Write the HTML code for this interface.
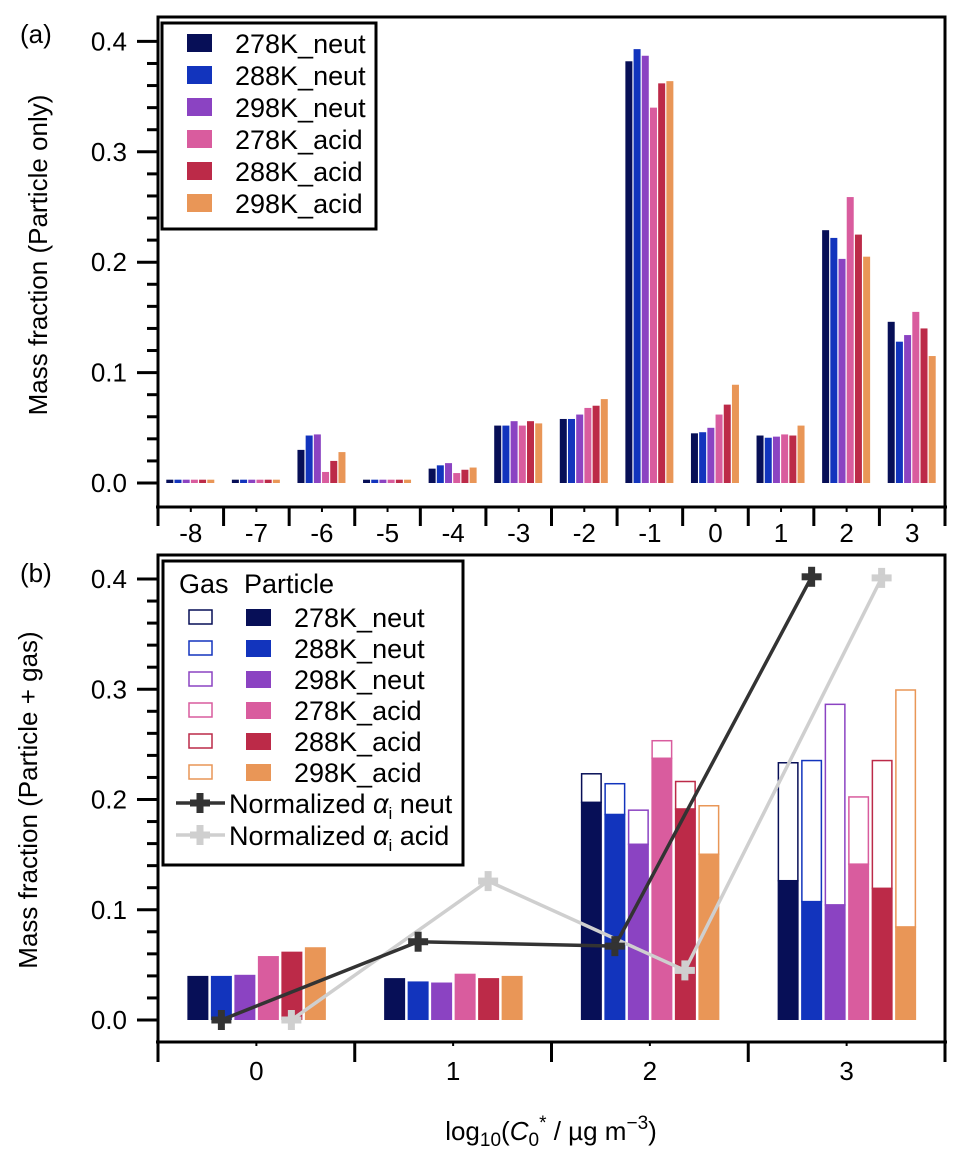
<!DOCTYPE html>
<html><head><meta charset="utf-8"><style>
body{margin:0;background:#fff;}
svg{display:block;font-family:"Liberation Sans",Arial,sans-serif;}
</style></head><body>
<svg id="chart" width="966" height="1167" viewBox="0 0 966 1167">
<g id="pa"></g>
<g id="pb"></g>
</svg>
<script>
const series = ["278K_neut","288K_neut","298K_neut","278K_acid","288K_acid","298K_acid"];
const colors = ["#070f57","#1234bd","#8b43c2","#d95c9e","#bc2a48","#e99657"];
const catsA = ["-8","-7","-6","-5","-4","-3","-2","-1","0","1","2","3"];
const valsA = [
 [0.003,0.003,0.003,0.003,0.003,0.003],
 [0.003,0.003,0.003,0.003,0.003,0.003],
 [0.030,0.043,0.044,0.010,0.020,0.028],
 [0.003,0.003,0.003,0.003,0.003,0.003],
 [0.013,0.016,0.018,0.009,0.012,0.014],
 [0.052,0.052,0.056,0.052,0.056,0.054],
 [0.058,0.058,0.062,0.068,0.070,0.076],
 [0.382,0.393,0.387,0.340,0.362,0.364],
 [0.045,0.046,0.050,0.062,0.071,0.089],
 [0.043,0.041,0.042,0.044,0.043,0.052],
 [0.229,0.222,0.203,0.259,0.225,0.205],
 [0.146,0.128,0.134,0.155,0.140,0.115]];
const catsB = ["0","1","2","3"];
const partB = [
 [0.040,0.040,0.041,0.058,0.062,0.066],
 [0.038,0.035,0.034,0.042,0.038,0.040],
 [0.198,0.187,0.160,0.238,0.192,0.151],
 [0.127,0.108,0.105,0.142,0.120,0.085]];
const totalB = [
 [0.040,0.040,0.041,0.058,0.062,0.066],
 [0.038,0.036,0.034,0.042,0.039,0.040],
 [0.224,0.215,0.191,0.254,0.217,0.195],
 [0.234,0.236,0.287,0.203,0.236,0.300]];
const alphaNeut = [0.0,0.071,0.067,0.402];
const alphaAcid = [0.0,0.126,0.045,0.401];
const yTicks = [0,0.1,0.2,0.3,0.4];
const yTickLabels = ["0.0","0.1","0.2","0.3","0.4"];

const NS="http://www.w3.org/2000/svg";
function mk(parent,tag,attrs,text){const e=document.createElementNS(NS,tag);for(const k in attrs)e.setAttribute(k,attrs[k]);if(text!==undefined)e.textContent=text;parent.appendChild(e);return e;}
const FS=26;
const L=158,R=945;
// ---------- Panel A ----------
const pa=document.getElementById('pa');
const yA=v=>483-v*1104;
const wA=(R-L)/catsA.length;
const xA=i=>L+wA*(i+0.5);
let fr=mk(pa,'path',{d:`M${L} 507 L${L} 17 L${R} 17 L${R} 507`,fill:'none',stroke:'#000','stroke-width':3});

let ax=mk(pa,'line',{x1:L-2,y1:507,x2:R+2,y2:507,stroke:'#000','stroke-width':3});

for(let i=0;i<=catsA.length;i++){const x=L+wA*i;let t=mk(pa,'line',{x1:x,y1:507,x2:x,y2:526,stroke:'#000','stroke-width':3});}
catsA.forEach((c,i)=>{
 let t=mk(pa,'line',{x1:xA(i),y1:507,x2:xA(i),y2:512,stroke:'#000','stroke-width':2});
 let tx=mk(pa,'text',{x:xA(i),y:542,'font-size':FS,'text-anchor':'middle'},c);
 valsA[i].forEach((v,j)=>{
  const x=xA(i)-24.5+j*8.2;
  let b=mk(pa,'rect',{x:x,y:yA(v),width:7,height:483-yA(v),fill:colors[j]});
  
 });
});
for(let k=0;k<=20;k++){const v=k*0.02;const y=yA(v);const maj=k%5==0;let t=mk(pa,'line',{x1:maj?137:147,y1:y,x2:L,y2:y,stroke:'#000','stroke-width':3});}
yTicks.forEach((v,i)=>{let t=mk(pa,'text',{x:127,y:yA(v)+9,'font-size':FS,'text-anchor':'end'},yTickLabels[i]);});
let yt=mk(pa,'text',{x:0,y:0,'font-size':FS,'text-anchor':'middle',transform:'translate(47,255) rotate(-90)'},'Mass fraction (Particle only)');

let la=mk(pa,'text',{x:20,y:43,'font-size':FS},'(a)');
let lg=mk(pa,'g',{});
mk(lg,'rect',{x:162,y:23,width:214,height:206,fill:'#fff',stroke:'#000','stroke-width':3});
series.forEach((s,j)=>{const y=43+j*32;
 let e=mk(lg,'g',{});
 mk(e,'rect',{x:187,y:y-9,width:25,height:18,fill:colors[j]});
 mk(e,'text',{x:235,y:y+10,'font-size':27},s);});

// ---------- Panel B ----------
const pb=document.getElementById('pb');
const yB=v=>1020-v*1102.5;
const wB=(R-L)/catsB.length;
const xB=i=>L+wB*(i+0.5);
fr=mk(pb,'path',{d:`M${L} 1042 L${L} 555 L${R} 555 L${R} 1042`,fill:'none',stroke:'#000','stroke-width':3});

ax=mk(pb,'line',{x1:L-2,y1:1042,x2:R+2,y2:1042,stroke:'#000','stroke-width':3});

for(let i=0;i<=catsB.length;i++){const x=L+wB*i;let t=mk(pb,'line',{x1:x,y1:1042,x2:x,y2:1062,stroke:'#000','stroke-width':3});}
catsB.forEach((c,i)=>{
 let t=mk(pb,'line',{x1:xB(i),y1:1042,x2:xB(i),y2:1046,stroke:'#000','stroke-width':2});
 let tx=mk(pb,'text',{x:xB(i),y:1080,'font-size':FS,'text-anchor':'middle'},c);
 for(let j=0;j<6;j++){
  const x=xB(i)-69+j*23.5, p=partB[i][j], t2=totalB[i][j];
  if(t2>p+0.001){let g=mk(pb,'rect',{x:x+0.75,y:yB(t2)+0.75,width:19.5,height:yB(p)-yB(t2),fill:'#fff',stroke:colors[j],'stroke-width':1.5});}
  let b=mk(pb,'rect',{x:x,y:yB(p),width:21,height:1020-yB(p),fill:colors[j]});
  
 }
});
function cross(g,x,y,col){mk(g,'rect',{x:x-3.5,y:y-10,width:7,height:20,fill:col});mk(g,'rect',{x:x-10,y:y-3.5,width:20,height:7,fill:col});}
[[alphaAcid,'#cfcfcf',35,'alpha-acid-line'],[alphaNeut,'#333333',-35,'alpha-neut-line']].forEach(([arr,col,off,name])=>{
 const g=mk(pb,'g',{});
 const pts=arr.map((v,i)=>[xB(i)+off,yB(v)]);
 mk(g,'polyline',{points:pts.map(p=>p.join(',')).join(' '),fill:'none',stroke:col,'stroke-width':3.5});
 pts.forEach(p=>cross(g,p[0],p[1],col));
});
for(let k=0;k<=20;k++){const v=k*0.02;const y=yB(v);const maj=k%5==0;let t=mk(pb,'line',{x1:maj?137:147,y1:y,x2:L,y2:y,stroke:'#000','stroke-width':3});}
yTicks.forEach((v,i)=>{let t=mk(pb,'text',{x:127,y:yB(v)+9,'font-size':FS,'text-anchor':'end'},yTickLabels[i]);});
yt=mk(pb,'text',{x:0,y:0,'font-size':FS,'text-anchor':'middle',transform:'translate(37,800) rotate(-90)'},'Mass fraction (Particle + gas)');

la=mk(pb,'text',{x:20,y:582,'font-size':FS},'(b)');
let xt=mk(pb,'text',{x:551,y:1140,'font-size':FS,'text-anchor':'middle'});

xt.innerHTML='log<tspan font-size="19" dy="6">10</tspan><tspan dy="-6">(</tspan><tspan font-style="italic">C</tspan><tspan font-size="19" dy="6">0</tspan><tspan font-size="19" dy="-17">*</tspan><tspan dy="11"> / µg m</tspan><tspan font-size="19" dy="-11">−3</tspan><tspan dy="11">)</tspan>';
lg=mk(pb,'g',{});
mk(lg,'rect',{x:163,y:561,width:300,height:304,fill:'#fff',stroke:'#000','stroke-width':3});
mk(lg,'text',{x:179,y:593,'font-size':27},'Gas');
mk(lg,'text',{x:244,y:593,'font-size':27},'Particle');
series.forEach((s,j)=>{const y=617+j*31;
 let e=mk(lg,'g',{});
 mk(e,'rect',{x:189,y:y-7,width:23,height:14,fill:'#fff',stroke:colors[j],'stroke-width':1.5});
 mk(e,'rect',{x:246,y:y-8,width:25,height:17,fill:colors[j]});
 mk(e,'text',{x:294,y:y+10,'font-size':27},s);});
[['#333333','neut',803],['#cfcfcf','acid',835]].forEach(([col,lab,y])=>{
 let e=mk(lg,'g',{});
 mk(e,'line',{x1:176,y1:y,x2:225,y2:y,stroke:col,'stroke-width':3.5});
 cross(e,200,y,col);
 const t=mk(e,'text',{x:229,y:y+10,'font-size':27});
 t.innerHTML='Normalized <tspan font-style="italic">α</tspan><tspan font-size="17" dy="6">i</tspan><tspan dy="-6"> '+lab+'</tspan>';
});
</script>
</body></html>
